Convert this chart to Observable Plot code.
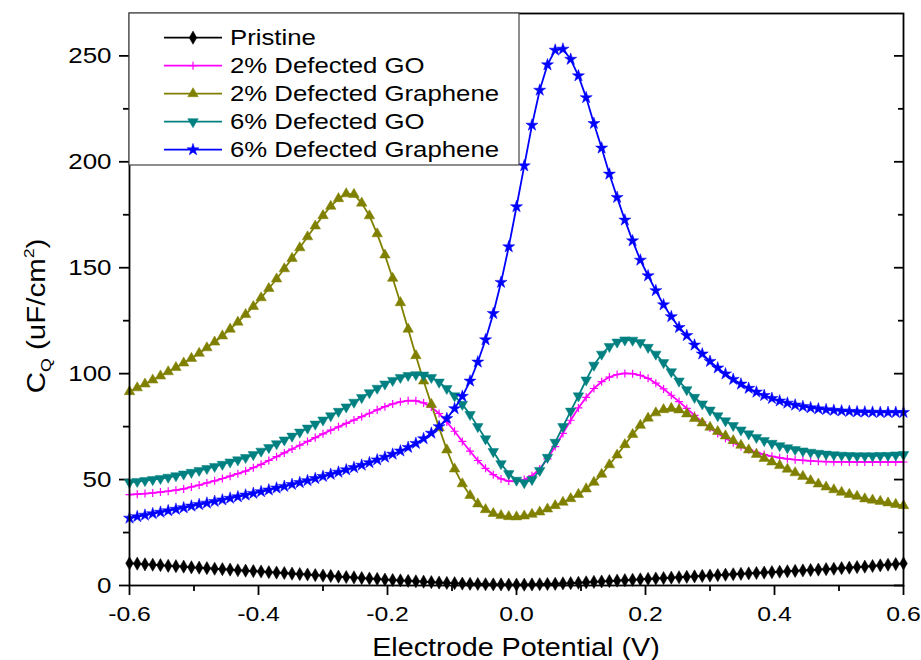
<!DOCTYPE html>
<html><head><meta charset="utf-8">
<script src="https://cdn.jsdelivr.net/npm/d3@7"></script>
<script src="https://cdn.jsdelivr.net/npm/@observablehq/plot@0.6"></script>
<style>
html,body{margin:0;padding:0;background:#fff;}
#chart{width:921px;height:660px;}
svg text{font-family:"Liberation Sans",Arial,sans-serif;}
</style></head><body><div id="chart"></div>
<script>
// sampling grid of electrode potential (V), 101 points from -0.6 to 0.6
const potential = d3.range(101).map(i => +(-0.6 + 0.012 * i).toFixed(3));

const pristine = [10.5,10.3,10.0,9.8,9.6,9.3,9.1,8.9,8.6,8.4,8.2,
 7.9,7.7,7.5,7.2,7.0,6.8,6.6,6.3,6.1,5.9,
 5.6,5.4,5.2,4.9,4.7,4.5,4.2,4.0,3.8,3.5,
 3.3,3.1,2.8,2.6,2.4,2.2,2.0,1.8,1.6,1.4,
 1.2,1.1,0.9,0.8,0.7,0.6,0.5,0.5,0.4,0.4,
 0.4,0.5,0.6,0.7,0.8,1.0,1.1,1.3,1.5,1.7,
 1.9,2.1,2.3,2.5,2.7,2.9,3.1,3.3,3.5,3.7,
 3.9,4.1,4.3,4.5,4.7,4.9,5.1,5.3,5.5,5.7,
 5.9,6.1,6.3,6.5,6.7,6.9,7.1,7.3,7.5,7.7,
 7.9,8.2,8.4,8.7,8.9,9.2,9.5,9.8,10.1,10.4];

const defectedGO2 = [42.9,43.1,43.4,43.7,44.1,44.5,45.0,45.6,46.5,47.4,48.4,
 49.4,50.5,51.6,52.8,54.0,55.6,57.2,59.0,60.8,62.6,
 64.4,66.2,68.0,69.8,71.6,73.3,74.9,76.5,78.1,79.7,
 81.3,82.9,84.4,85.7,86.7,87.3,87.2,86.2,84.2,81.2,
 77.2,72.8,68.0,63.4,59.0,55.3,52.3,50.3,49.3,49.2,
 50.0,51.8,55.0,59.8,65.6,71.8,78.0,83.8,88.8,93.0,
 96.2,98.4,99.6,100.1,100.0,99.2,97.8,95.5,92.8,89.8,
 86.8,83.6,80.3,77.2,74.3,71.8,69.5,67.4,65.6,64.1,
 62.8,61.8,61.0,60.3,59.8,59.4,59.1,58.8,58.6,58.5,
 58.4,58.4,58.3,58.3,58.3,58.3,58.3,58.3,58.3,58.3];

const defectedGraphene2 = [91.5,93.3,95.1,97.0,98.9,100.9,102.9,105.0,107.2,109.6,112.2,
 114.9,117.8,121.0,124.3,127.9,131.7,135.8,140.2,144.7,149.5,
 154.4,159.4,164.6,169.7,174.6,179.0,182.6,184.9,184.6,180.5,
 174.5,166.0,156.0,145.0,133.5,121.0,108.5,96.5,85.5,74.5,
 64.0,55.0,48.0,42.5,38.5,35.8,34.0,33.0,32.5,32.4,
 32.8,33.6,34.7,36.1,37.7,39.3,41.0,43.0,45.6,48.7,
 52.5,57.0,61.6,66.5,71.3,75.6,79.0,81.5,83.0,83.6,
 82.9,81.0,78.8,76.7,74.7,72.7,70.6,68.4,66.2,64.0,
 61.9,60.0,58.3,56.6,54.9,53.2,51.5,49.5,47.9,46.5,
 45.2,44.0,43.0,42.1,40.9,40.3,39.7,39.0,38.3,37.7];

const defectedGO6 = [48.7,49.1,49.5,50.0,50.5,51.1,51.8,52.6,53.4,54.3,55.2,
 56.2,57.2,58.3,59.3,60.4,61.8,63.4,65.1,66.9,68.7,
 70.5,72.4,74.3,76.2,78.1,80.1,82.2,84.3,86.5,88.7,
 91.0,93.1,95.1,96.8,98.2,99.1,99.5,99.3,98.2,96.0,
 93.0,89.5,85.5,80.7,75.0,69.2,63.2,57.5,52.8,49.7,
 48.5,50.0,54.3,60.5,67.6,75.0,82.3,89.5,97.0,104.0,
 109.2,112.8,114.9,115.9,115.8,114.7,112.4,109.2,105.2,100.9,
 96.5,92.4,88.8,85.7,82.8,80.1,77.7,75.5,73.4,71.6,
 69.9,68.4,67.1,66.0,65.0,64.2,63.5,62.9,62.4,62.0,
 61.7,61.5,61.3,61.2,61.2,61.2,61.3,61.4,61.6,61.8];

const defectedGraphene6 = [31.8,32.5,33.2,33.9,34.6,35.3,36.0,36.7,37.5,38.2,38.9,
 39.7,40.4,41.2,41.9,42.7,43.5,44.3,45.1,46.0,46.8,
 47.7,48.6,49.5,50.5,51.5,52.5,53.5,54.6,55.7,56.8,
 58.0,59.3,60.6,62.0,63.5,65.2,67.1,69.3,71.9,75.0,
 78.8,83.5,89.3,96.5,105.5,116.0,128.4,143.1,159.9,178.8,
 198.1,217.3,233.8,245.8,252.7,253.2,248.4,240.6,230.3,218.1,
 206.5,194.2,183.2,172.5,162.7,153.6,146.2,139.2,132.5,126.9,
 121.8,118.0,113.5,109.3,105.8,102.7,99.9,97.3,95.1,93.1,
 91.3,89.7,88.3,87.1,86.1,85.2,84.5,83.9,83.4,83.0,
 82.7,82.4,82.2,82.0,81.9,81.8,81.7,81.7,81.7,81.7];

const seriesNames = ["Pristine","2% Defected GO","2% Defected Graphene","6% Defected GO","6% Defected Graphene"];
const seriesValues = [pristine, defectedGO2, defectedGraphene2, defectedGO6, defectedGraphene6];
const seriesColors = ["#000000","#ff00ff","#808000","#008080","#0000ff"];
const seriesSymbols = ["diamond","plus","triangle","triangle","star"];
const seriesRotate = [0,0,0,180,0];
const seriesR = [4.0,2.7,3.9,3.9,3.8];

const xMajorTicks = [-0.6,-0.4,-0.2,0,0.2,0.4,0.6];
const xMinorTicks = [-0.5,-0.3,-0.1,0.1,0.3,0.5];
const yMajorTicks = [0,50,100,150,200,250];
const yMinorTicks = [25,75,125,175,225];
const xTitle = "Electrode Potential (V)";

const seriesMarks = seriesValues.flatMap((vals, s) => {
  const data = vals.map((v, i) => ({x: potential[i], y: v}));
  const isStroke = seriesSymbols[s] === "plus";
  return [
    Plot.line(data, {x: "x", y: "y", stroke: seriesColors[s], strokeWidth: 1.8}),
    Plot.dot(data, {x: "x", y: "y", symbol: seriesSymbols[s], r: seriesR[s], rotate: seriesRotate[s],
      fill: isStroke ? "none" : seriesColors[s], stroke: seriesColors[s], strokeWidth: isStroke ? 1.2 : 0.5})
  ];
});

const chart = Plot.plot({
  width: 921, height: 660,
  marginLeft: 129, marginRight: 18, marginTop: 13, marginBottom: 75,
  x: {domain: [-0.6, 0.6]},
  y: {domain: [0, 270]},
  style: {fontFamily: "'Liberation Sans', Arial, sans-serif", color: "black", background: "white", overflow: "visible"},
  marks: [
    Plot.axisX({ticks: xMajorTicks, tickSize: 10, tickPadding: 11, tickFormat: d => d.toFixed(1), label: null, strokeWidth: 1.8, fontSize: 21}),
    Plot.axisX({ticks: xMinorTicks, tickSize: 6, tickFormat: () => "", label: null, strokeWidth: 1.8}),
    Plot.axisY({ticks: yMajorTicks, tickSize: 10, tickPadding: 8, tickFormat: d => String(d), label: null, strokeWidth: 1.8, fontSize: 22}),
    Plot.axisY({ticks: yMinorTicks, tickSize: 6, tickFormat: () => "", label: null, strokeWidth: 1.8}),
    Plot.axisY({anchor: "right", ticks: yMajorTicks, tickSize: -10, tickFormat: () => "", label: null, strokeWidth: 1.8}),
    Plot.axisY({anchor: "right", ticks: yMinorTicks, tickSize: -6, tickFormat: () => "", label: null, strokeWidth: 1.8}),
    ...seriesMarks,
    Plot.frame({stroke: "black", strokeWidth: 1.8})
  ]
});

document.getElementById("chart").appendChild(chart);
const svg = d3.select(chart);

// horizontally widen tick labels to match the reference's wide glyphs
svg.selectAll("text").each(function() {
  if (!this.textContent) return;
  const len = this.getComputedTextLength();
  if (len > 0) { this.setAttribute("textLength", len * 1.18); this.setAttribute("lengthAdjust", "spacingAndGlyphs"); }
});

// x axis title
const xt = svg.append("text").attr("x", 516).attr("y", 656).attr("text-anchor", "middle")
  .attr("font-size", 25).attr("fill", "black").text(xTitle);
xt.attr("textLength", xt.node().getComputedTextLength() * 1.15).attr("lengthAdjust", "spacingAndGlyphs");

// y axis title: C_Q (uF/cm^2)
const yt = svg.append("text").attr("transform", "translate(45,316) rotate(-90)").attr("text-anchor", "middle")
  .attr("font-size", 25).attr("fill", "black");
yt.append("tspan").text("C");
yt.append("tspan").attr("font-size", 15).attr("dy", 6).text("Q");
yt.append("tspan").attr("dy", -6).text(" (uF/cm");
yt.append("tspan").attr("font-size", 15).attr("dy", -11).text("2");
yt.append("tspan").attr("dy", 11).text(")");
yt.attr("textLength", yt.node().getComputedTextLength() * 1.18).attr("lengthAdjust", "spacingAndGlyphs");

// legend
const lg = svg.append("g").attr("text-anchor", "start");
lg.append("rect").attr("x", 129).attr("y", 13).attr("width", 390).attr("height", 152)
  .attr("fill", "white").attr("stroke", "#444").attr("stroke-width", 1.2);
seriesNames.forEach((name, i) => {
  const cy = 37.7 + 28 * i;
  lg.append("line").attr("x1", 164).attr("x2", 222).attr("y1", cy).attr("y2", cy)
    .attr("stroke", seriesColors[i]).attr("stroke-width", 1.8);
  const typ = {diamond: d3.symbolDiamond, plus: d3.symbolPlus, triangle: d3.symbolTriangle, star: d3.symbolStar}[seriesSymbols[i]];
  const isStroke = seriesSymbols[i] === "plus";
  lg.append("path").attr("d", d3.symbol(typ, Math.PI * seriesR[i] * seriesR[i])())
    .attr("transform", `translate(193,${cy}) rotate(${seriesRotate[i]})`)
    .attr("fill", isStroke ? "none" : seriesColors[i]).attr("stroke", seriesColors[i])
    .attr("stroke-width", isStroke ? 1.2 : 0.5);
  const t = lg.append("text").attr("x", 230).attr("y", cy + 7.5).attr("text-anchor", "start")
    .attr("font-size", 22).attr("fill", "black").text(name);
  t.attr("textLength", t.node().getComputedTextLength() * 1.17).attr("lengthAdjust", "spacingAndGlyphs");
});
</script></body></html>
